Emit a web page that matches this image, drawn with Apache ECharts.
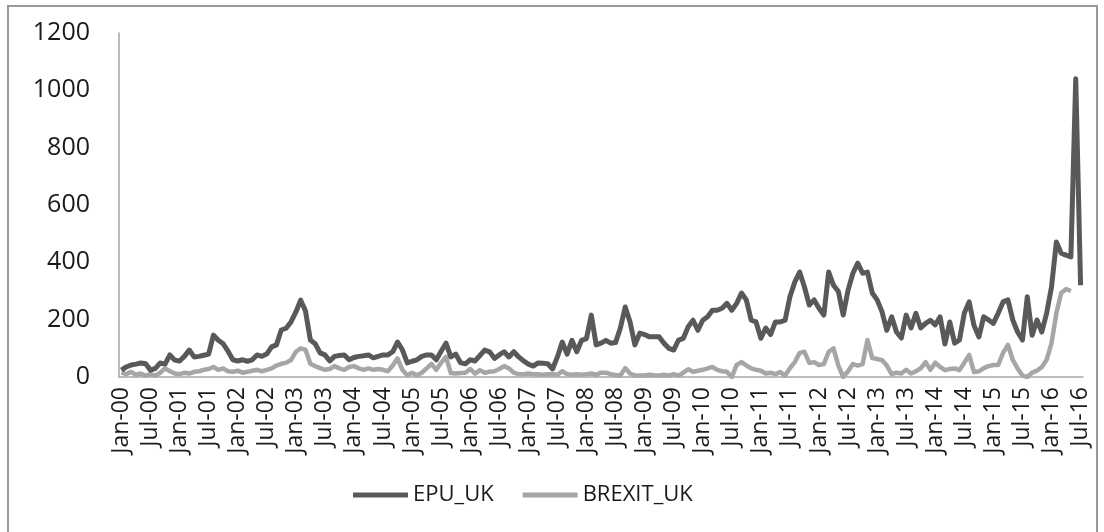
<!DOCTYPE html>
<html>
<head>
<meta charset="utf-8">
<script src="https://cdn.jsdelivr.net/npm/echarts@6/dist/echarts.min.js"></script>
<style>
html, body { margin: 0; padding: 0; background: #fff; }
#chart { width: 1104px; height: 532px; }
</style>
</head>
<body>
<div id="chart"></div>
<script>
// 月份标签 Jan-00 ... Jul-16
var monthNames = ['Jan', 'Feb', 'Mar', 'Apr', 'May', 'Jun', 'Jul', 'Aug', 'Sep', 'Oct', 'Nov', 'Dec'];
var years = ['00', '01', '02', '03', '04', '05', '06', '07', '08', '09', '10', '11', '12', '13', '14', '15', '16'];
var lastMonthCount = 7; // 2016 only to Jul

var categories = [];
for (var y = 0; y < years.length; y++) {
    var n = (y === years.length - 1) ? lastMonthCount : 12;
    for (var m = 0; m < n; m++) {
        categories.push(monthNames[m] + '-' + years[y]);
    }
}

// EPU_UK, one row per year
var epuUK = [
    24, 35, 42, 45, 49, 46, 24, 30, 49, 45, 77, 59,
    56, 72, 94, 70, 72, 76, 80, 146, 128, 116, 90, 60,
    56, 60, 55, 60, 77, 72, 80, 105, 112, 164, 170, 192,
    226, 268, 230, 129, 116, 84, 77, 56, 72, 75, 77, 60,
    68, 72, 74, 77, 67, 72, 77, 77, 88, 122, 95, 49,
    55, 60, 72, 77, 77, 60, 90, 118, 70, 80, 50, 46,
    60, 56, 75, 94, 88, 65, 77, 88, 70, 88, 70, 56,
    45, 38, 49, 48, 46, 28, 70, 122, 80, 128, 88, 128,
    134, 216, 112, 118, 128, 118, 120, 171, 244, 192, 112, 153,
    148, 140, 140, 140, 118, 100, 94, 129, 135, 175, 198, 163,
    198, 210, 233, 233, 240, 257, 233, 257, 293, 269, 198, 192,
    135, 171, 148, 192, 192, 198, 280, 331, 366, 314, 251, 269,
    240, 216, 366, 320, 298, 216, 303, 362, 397, 362, 366, 293,
    269, 228, 163, 210, 157, 136, 216, 171, 222, 171, 187, 198,
    182, 210, 115, 192, 118, 129, 223, 262, 180, 140, 210, 199,
    187, 223, 262, 269, 199, 157, 129, 280, 146, 199, 157, 223,
    314, 471, 432, 425, 419, 1040, 320
];

// BREXIT_UK, stops in May-16
var brexitUK = [
    15, 10, 18, 8, 12, 5, 10, 5, 15, 30, 20, 12,
    10, 15, 12, 18, 20, 25, 28, 35, 25, 30, 20, 18,
    22, 15, 18, 22, 25, 20, 25, 30, 40, 46, 50, 59,
    88, 100, 95, 46, 38, 31, 25, 28, 38, 30, 25, 35,
    38, 30, 25, 30, 25, 28, 25, 20, 40, 65, 25, 6,
    15, 6, 15, 30, 46, 25, 50, 70, 14, 12, 14, 15,
    28, 12, 24, 15, 18, 20, 28, 38, 30, 15, 10, 10,
    12, 10, 10, 8, 10, 10, 8, 20, 10, 8, 10, 8,
    10, 12, 8, 15, 15, 10, 7, 5, 31, 12, 5, 5,
    5, 8, 6, 5, 8, 5, 10, 5, 15, 27, 18, 22,
    25, 30, 35, 25, 20, 18, 0, 42, 52, 40, 30, 25,
    22, 12, 15, 10, 17, 5, 31, 52, 84, 88, 49, 52,
    42, 45, 88, 100, 40, 0, 20, 45, 40, 45, 129, 66,
    63, 59, 40, 10, 15, 12, 25, 12, 20, 30, 52, 25,
    50, 35, 24, 28, 30, 24, 50, 77, 17, 20, 31, 38,
    42, 42, 84, 112, 60, 30, 5, 0, 15, 22, 35, 60,
    118, 223, 293, 307, 300, null, null
];

var yTicks = { min: 0, max: 1200, interval: 200 };

var chart = echarts.init(document.getElementById('chart'));
var option = {
    backgroundColor: '#fff',
    animation: false,
    textStyle: { fontFamily: '"Open Sans", sans-serif' },
    graphic: [{
        type: 'rect',
        shape: { x: 8, y: 6, width: 1089, height: 540 },
        style: { fill: 'none', stroke: '#9a9a9a', lineWidth: 2 },
        silent: true
    }],
    grid: {
        left: 119,
        right: 21,
        top: 33,
        bottom: 155
    },
    legend: {
        left: 348,
        top: 479,
        icon: 'rect',
        itemWidth: 55,
        itemHeight: 5,
        itemGap: 29,
        itemTextGap: 4,
        textStyle: { fontSize: 22, color: '#1a1a1a' },
        data: ['EPU_UK', 'BREXIT_UK']
    },
    xAxis: {
        type: 'category',
        boundaryGap: true,
        data: categories,
        axisLine: { show: true, lineStyle: { color: '#a6a6a6', width: 1.5 } },
        axisTick: { show: false },
        splitLine: { show: false },
        axisLabel: {
            interval: 5,
            rotate: 90,
            margin: 10,
            fontSize: 23,
            color: '#1a1a1a'
        }
    },
    yAxis: {
        type: 'value',
        min: yTicks.min,
        max: yTicks.max,
        interval: yTicks.interval,
        axisLine: { show: true, lineStyle: { color: '#a6a6a6', width: 1.5 } },
        axisTick: { show: false },
        splitLine: { show: false },
        axisLabel: {
            margin: 29,
            fontSize: 25,
            color: '#1a1a1a',
            formatter: function (v) { return String(v); }
        }
    },
    series: [{
        name: 'EPU_UK',
        type: 'line',
        symbol: 'none',
        smooth: false,
        color: '#595959',
        lineStyle: { width: 5, color: '#595959', join: 'round' },
        data: epuUK,
        z: 3
    }, {
        name: 'BREXIT_UK',
        type: 'line',
        symbol: 'none',
        smooth: false,
        color: '#a6a6a6',
        lineStyle: { width: 4.5, color: '#a6a6a6', join: 'round' },
        data: brexitUK,
        z: 2
    }]
};

if (option && typeof option === 'object') {
    chart.setOption(option);
}
</script>
</body>
</html>
